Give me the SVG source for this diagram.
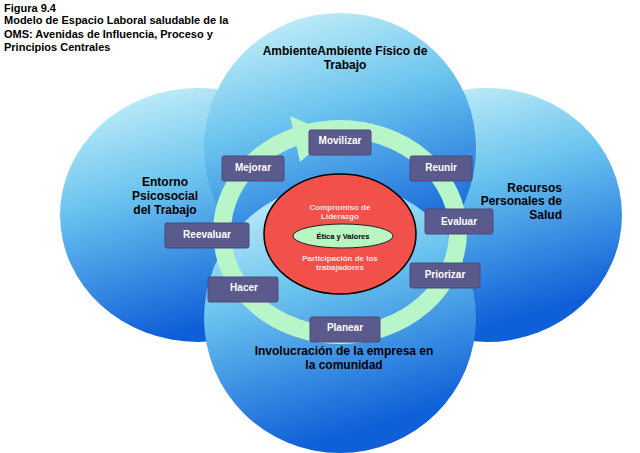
<svg xmlns="http://www.w3.org/2000/svg" width="640" height="453" viewBox="0 0 640 453">
<defs>
<linearGradient id="g" x1="0" y1="0" x2="0.3" y2="1"><stop offset="0" stop-color="#d4f7fb"/><stop offset="0.45" stop-color="#6cc4ef"/><stop offset="1" stop-color="#0f5fd8"/></linearGradient>
<style>
.c{fill:url(#g)}
.b{fill:#5a5a8c;stroke:#4a4a78;stroke-width:1}
.bt{font-family:"Liberation Sans",Arial,sans-serif;font-weight:bold;font-size:10px;fill:#fff;text-anchor:middle}
.t{font-family:"Liberation Sans",Arial,sans-serif;font-weight:bold;font-size:12px;fill:#000;text-anchor:middle}
.e{text-anchor:end}
.r{font-family:"Liberation Sans",Arial,sans-serif;font-weight:bold;font-size:8px;fill:#ffe0e0;text-anchor:middle}
</style>
</defs>
<rect width="640" height="453" fill="#fff"/>
<text font-family="Liberation Sans,Arial,sans-serif" font-weight="bold" font-size="11" fill="#000"><tspan x="4" y="12">Figura 9.4</tspan><tspan x="4" y="24">Modelo de Espacio Laboral saludable de la</tspan><tspan x="4" y="38">OMS: Avenidas de Influencia, Proceso y</tspan><tspan x="4" y="51">Principios Centrales</tspan></text>
<g id="circles">
<ellipse id="left" class="c" cx="198" cy="215" rx="138" ry="127"/>
<ellipse id="right" class="c" cx="487" cy="215" rx="135" ry="127"/>
<ellipse id="top" class="c" cx="340" cy="148" rx="136" ry="135"/>
<ellipse id="bottom" class="c" cx="340" cy="318" rx="136" ry="135"/>
</g>
<g id="ring">
<ellipse cx="340" cy="232" rx="118" ry="103" fill="none" stroke="#b8f5c8" stroke-width="18"/>
<polygon points="290,116 332,134 300,162" fill="#b8f5c8"/>
</g>
<g id="core">
<ellipse cx="340" cy="234" rx="76" ry="60" fill="#f2504a" stroke="#000" stroke-width="1.5"/>
<text class="r" x="340" y="210">Compromiso de</text><text class="r" x="340" y="219">Liderazgo</text>
<ellipse cx="343" cy="236" rx="50" ry="12" fill="#b8f5c0" stroke="#222" stroke-width="1"/>
<text x="343" y="239" font-family="Liberation Sans,Arial,sans-serif" font-weight="bold" font-size="7.5" text-anchor="middle" fill="#000">Ética y Valores</text>
<text class="r" x="340" y="261">Participación de los</text><text class="r" x="340" y="270">trabajadores</text>
</g>
<g id="nodes">
<g id="movilizar"><rect class="b" x="309" y="130" width="62" height="25" rx="2"/><text class="bt" x="340" y="144">Movilizar</text></g>
<g id="mejorar"><rect class="b" x="222" y="156" width="62" height="25" rx="2"/><text class="bt" x="253" y="171">Mejorar</text></g>
<g id="reunir"><rect class="b" x="410" y="156" width="62" height="25" rx="2"/><text class="bt" x="441" y="171">Reunir</text></g>
<g id="evaluar"><rect class="b" x="425" y="209" width="68" height="25" rx="2"/><text class="bt" x="459" y="225">Evaluar</text></g>
<g id="reevaluar"><rect class="b" x="165" y="223" width="84" height="25" rx="2"/><text class="bt" x="207" y="238">Reevaluar</text></g>
<g id="priorizar"><rect class="b" x="410" y="263" width="70" height="25" rx="2"/><text class="bt" x="445" y="278">Priorizar</text></g>
<g id="hacer"><rect class="b" x="208" y="277" width="70" height="25" rx="2"/><text class="bt" x="244" y="291">Hacer</text></g>
<g id="planear"><rect class="b" x="310" y="317" width="70" height="25" rx="2"/><text class="bt" x="345" y="331">Planear</text></g>
</g>
<g id="labels">
<text class="t" x="345" y="55">AmbienteAmbiente Físico de</text><text class="t" x="345" y="69">Trabajo</text>
<text class="t" x="165" y="186">Entorno</text><text class="t" x="165" y="200">Psicosocial</text><text class="t" x="165" y="214">del Trabajo</text>
<text class="t e" x="562" y="192">Recursos</text><text class="t e" x="562" y="205">Personales de</text><text class="t e" x="562" y="219">Salud</text>
<text class="t" x="344" y="355">Involucración de la empresa en</text><text class="t" x="344" y="369">la comunidad</text>
</g>
</svg>
